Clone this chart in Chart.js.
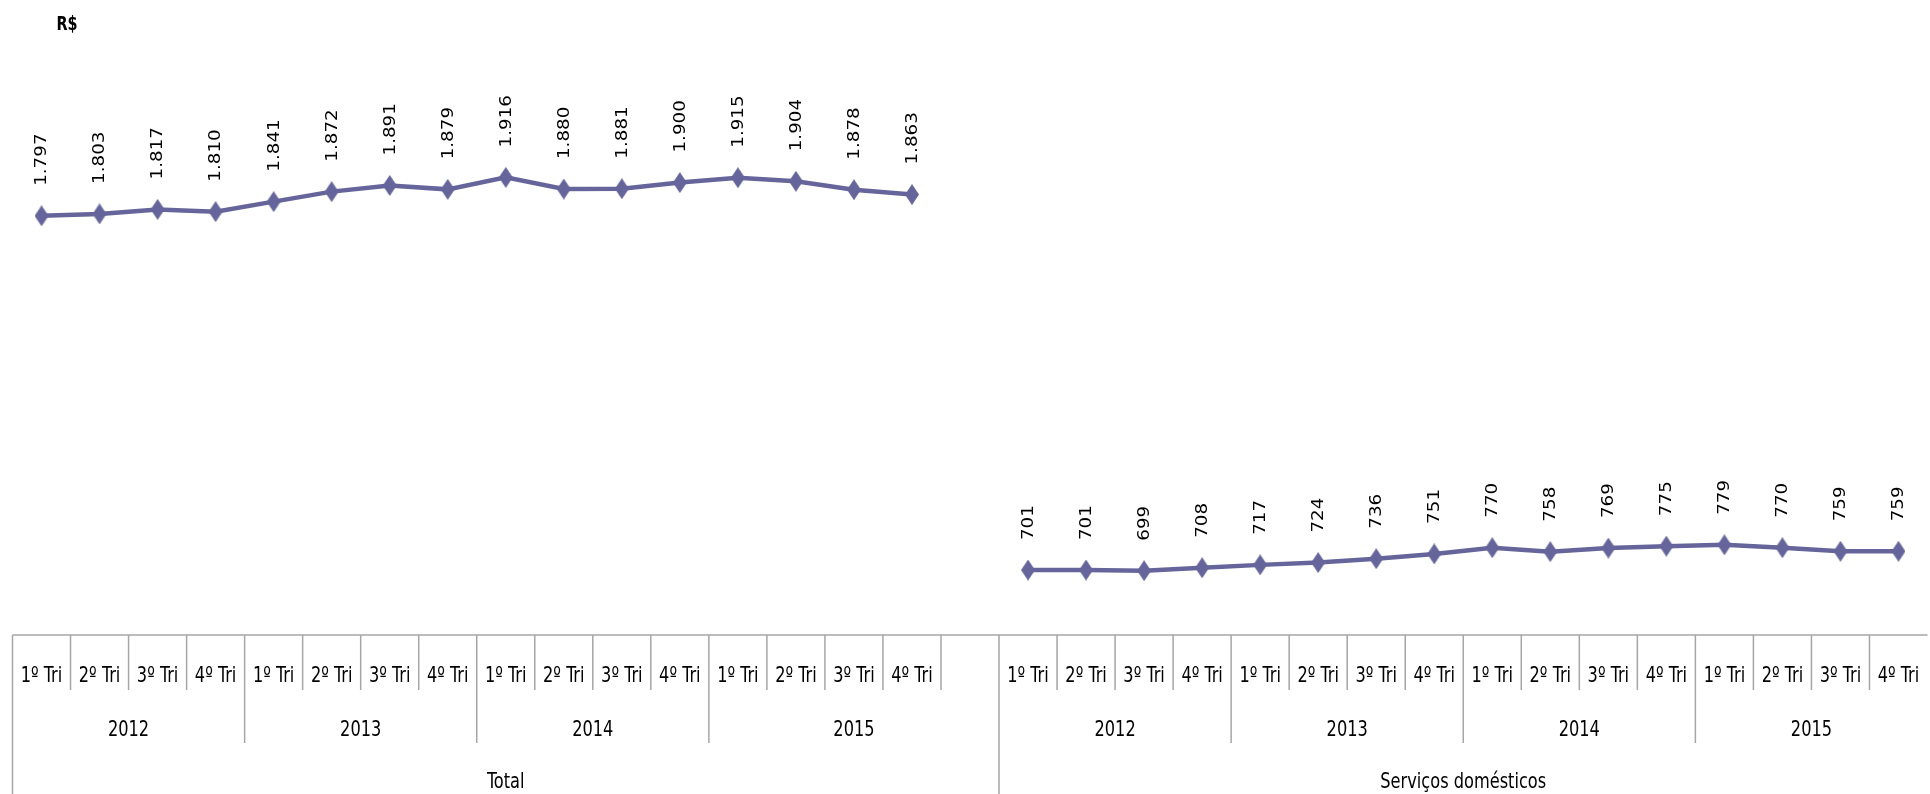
<!DOCTYPE html>
<html>
<head>
<meta charset="utf-8">
<script src="https://cdn.jsdelivr.net/npm/chart.js@4/dist/chart.umd.min.js"></script>
<style>
  html, body { margin: 0; padding: 0; background: #fff; overflow: hidden; }
  #clip { width: 1930px; height: 794px; overflow: hidden; }
</style>
</head>
<body>
<div id="clip"><canvas id="myChart" width="1940" height="794"></canvas></div>
<script>
// -------------------------- data -------------------------------- //
const groups = ['Total', 'Serviços domésticos'];
const years = ['2012', '2013', '2014', '2015'];
const quarters = ['1º Tri', '2º Tri', '3º Tri', '4º Tri'];

const totalValues = [1797, 1803, 1817, 1810, 1841, 1872, 1891, 1879,
                     1916, 1880, 1881, 1900, 1915, 1904, 1878, 1863];
const domesticValues = [701, 701, 699, 708, 717, 724, 736, 751,
                        770, 758, 769, 775, 779, 770, 759, 759];

const lineColor = '#65659b';
const axisColor = '#a6a6a6';
const axisFont = '"Liberation Sans Narrow", "DejaVu Sans Condensed", sans-serif';

// one slot per quarter, plus an empty slot after the Total group
const labels = [];
const values = [];
groups.forEach((g, gi) => {
    const src = gi === 0 ? totalValues : domesticValues;
    years.forEach((y, yi) => {
        quarters.forEach((q, qi) => {
            labels.push(g + ' ' + y + ' ' + q);
            values.push(src[yi * 4 + qi]);
        });
    });
    if (gi === 0) {
        labels.push('');
        values.push(null);
    }
});

// tall diamond marker
function makeDiamond(w, h, color) {
    const c = document.createElement('canvas');
    c.width = w; c.height = h;
    const g = c.getContext('2d');
    g.fillStyle = color;
    g.beginPath();
    g.moveTo(w / 2, 0);
    g.lineTo(w, h / 2);
    g.lineTo(w / 2, h);
    g.lineTo(0, h / 2);
    g.closePath();
    g.fill();
    return c;
}
const diamond = makeDiamond(14, 21, lineColor);

function fmt(v) {
    return v >= 1000 ? Math.floor(v / 1000) + '.' + String(v % 1000).padStart(3, '0') : String(v);
}

function stretched(ctx, text, x, y, rot) {
    ctx.save();
    ctx.translate(x, y);
    ctx.scale(1, 1.22);
    if (rot) ctx.rotate(rot);
    ctx.fillText(text, 0, 0);
    ctx.restore();
}

// value labels, rotated
const valueLabels = {
    id: 'valueLabels',
    afterDatasetsDraw(chart) {
        const ctx = chart.ctx;
        const meta = chart.getDatasetMeta(0);
        ctx.save();
        ctx.fillStyle = '#000';
        ctx.font = '15px "DejaVu Sans", sans-serif';
        ctx.textAlign = 'left';
        ctx.textBaseline = 'middle';
        meta.data.forEach((pt, i) => {
            if (values[i] == null) return;
            stretched(ctx, fmt(values[i]), pt.x + 1, pt.y - 30, -Math.PI / 2);
        });
        // axis title
        ctx.font = 'bold 16px ' + axisFont;
        ctx.textAlign = 'center';
        stretched(ctx, 'R$', 67, 25);
        ctx.restore();
    }
};

// multi-level category axis drawn as a table
const tableAxis = {
    id: 'tableAxis',
    afterDraw(chart) {
        const ctx = chart.ctx;
        const xs = chart.scales.x;
        const area = chart.chartArea;
        const n = labels.length;
        const w = (area.right - area.left) / n;
        const top = area.bottom;
        const qBottom = top + 55;
        const yBottom = top + 108;
        const gBottom = chart.height;
        const edge = i => xs.getPixelForValue(i) - w / 2;

        ctx.save();
        ctx.strokeStyle = axisColor;
        ctx.lineWidth = 1.5;
        ctx.beginPath();
        ctx.moveTo(area.left, top);
        ctx.lineTo(area.right, top);

        ctx.fillStyle = '#000';
        ctx.font = '18px ' + axisFont;
        ctx.textAlign = 'center';
        ctx.textBaseline = 'middle';

        let i = 0;
        groups.forEach((g, gi) => {
            const gStart = i;
            years.forEach((y, yi) => {
                const yStart = i;
                quarters.forEach((q, qi) => {
                    const x0 = edge(i);
                    const bottom = (yi === 0 && qi === 0) ? gBottom : (qi === 0 ? yBottom : qBottom);
                    ctx.moveTo(x0, top);
                    ctx.lineTo(x0, bottom);
                    stretched(ctx, q, xs.getPixelForValue(i), top + 41);
                    i++;
                });
                // the empty slot after the Total group belongs to its last year
                const span = (gi === 0 && yi === years.length - 1) ? 5 : 4;
                stretched(ctx, y, edge(yStart) + span * w / 2, top + 95);
            });
            if (gi === 0) {
                ctx.moveTo(edge(i), top);
                ctx.lineTo(edge(i), qBottom);
                i++;
            }
            stretched(ctx, g, (edge(gStart) + edge(i - 1) + w) / 2, top + 147);
        });
        ctx.stroke();
        ctx.restore();
    }
};

// -------------------------- chart -------------------------------- //
const ctx1 = document.getElementById('myChart');
const myChart = new Chart(ctx1, {
    type: 'line',
    data: {
        labels: labels,
        datasets: [{
            label: 'R$',
            data: values,
            borderColor: lineColor,
            backgroundColor: lineColor,
            borderWidth: 4.5,
            tension: 0,
            spanGaps: false,
            pointStyle: diamond,
            pointRadius: 8,
            pointHoverRadius: 8
        }]
    },
    options: {
        responsive: false,
        animation: false,
        layout: {
            padding: { left: 10, right: 4, top: 21, bottom: 159 }
        },
        plugins: {
            legend: { display: false },
            tooltip: { enabled: false },
            title: { display: false }
        },
        scales: {
            x: { display: false, offset: true },
            y: { display: false, min: 500, max: 2400 }
        }
    },
    plugins: [valueLabels, tableAxis]
});
</script>
</body>
</html>
